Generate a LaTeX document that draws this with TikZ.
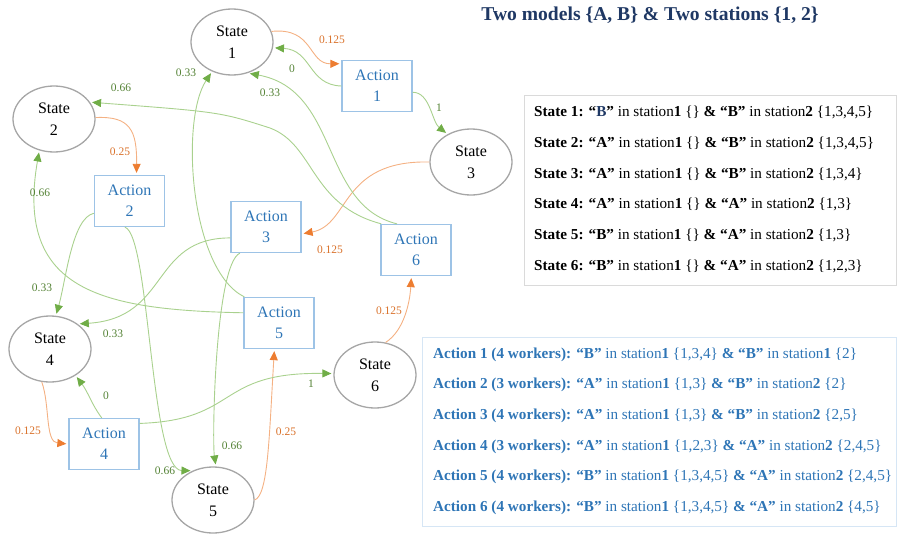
\documentclass[tikz,border=0pt]{standalone}
\usepackage{fontspec}
\setmainfont{Liberation Serif}
\usetikzlibrary{shapes.geometric,arrows.meta}

\definecolor{stgray}{HTML}{A6A6A6}
\definecolor{actblue}{HTML}{2E75B6}
\definecolor{actframe}{HTML}{9DC3E6}
\definecolor{grline}{HTML}{A9D18E}
\definecolor{grtip}{HTML}{70AD47}
\definecolor{grtext}{HTML}{548235}
\definecolor{orline}{HTML}{F4B183}
\definecolor{ortip}{HTML}{ED7D31}
\definecolor{ortext}{HTML}{D9712A}
\definecolor{navy}{HTML}{1F3864}
\definecolor{stframe}{HTML}{DADADA}
\definecolor{acframe}{HTML}{D6E6F5}

\tikzset{
  state/.style={ellipse,draw=stgray,line width=1.3pt,minimum width=82pt,
    minimum height=66pt,inner sep=0pt,align=center,font=\fontsize{16}{22}\selectfont},
  action/.style={rectangle,draw=actframe,line width=1.3pt,minimum width=70pt,
    minimum height=51pt,inner sep=0pt,align=center,text=actblue,
    font=\fontsize{16}{21}\selectfont},
  goact/.style={draw=orline,line width=0.9pt,shorten >=2pt,
    -{Triangle[length=9pt,width=8pt,color=ortip]}},
  gostate/.style={draw=grline,line width=0.9pt,shorten >=2pt,
    -{Triangle[length=9pt,width=8pt,color=grtip]}},
  orlab/.style={text=ortext,font=\fontsize{11.5}{12}\selectfont},
  grlab/.style={text=grtext,font=\fontsize{11.5}{12}\selectfont}
}

\begin{document}
\begin{tikzpicture}[x=1pt,y=-1pt]
\useasboundingbox (0,0) rectangle (897,538);

% states
\node[state] (s1) at (232,42) {State\\1};
\node[state] (s2) at (54,119) {State\\2};
\node[state] (s3) at (471,162) {State\\3};
\node[state] (s4) at (50,349) {State\\4};
\node[state] (s5) at (213,500) {State\\5};
\node[state] (s6) at (375,375) {State\\6};

% actions
\node[action] (a1) at (377,86) {Action\\1};
\node[action] (a2) at (129.5,201) {Action\\2};
\node[action] (a3) at (266,227) {Action\\3};
\node[action] (a4) at (104,444) {Action\\4};
\node[action] (a5) at (279,323) {Action\\5};
\node[action] (a6) at (416,250) {Action\\6};

% state -> action
\draw[goact] (s1.15) .. controls (314,27) and (308,64) .. (a1.148);
\draw[goact] (s2.2) .. controls (130,116) and (137,130) .. (a2.75);
\draw[goact] (s3.180) .. controls (340,160) and (350,225) .. (a3.-11);
\draw[goact] (s4.-104) .. controls (50,405) and (45,442) .. (a4.180);
\draw[goact] (s5.0) .. controls (268,495) and (269,440) .. (a5.-100);
\draw[goact] (s6.72) .. controls (405,330) and (410,300) .. (a6.-100);

% action -> state
\draw[gostate] (a1.180) .. controls (308,85) and (312,50) .. (s1.-8);
\draw[gostate] (a1.-10) .. controls (430,92) and (432,122) .. (s3.130);
\draw[gostate] (a2.-161) .. controls (72,218) and (66,280) .. (s4.80);
\draw[gostate] (a2.-100) .. controls (150,235) and (150,470) .. (s5.125);
\draw[gostate] (a3.-163) .. controls (150,238) and (170,318) .. (s4.42);
\draw[gostate] (a3.-135) .. controls (215,265) and (212,440) .. (s5.85);
\draw[gostate] (a4.95) .. controls (92,405) and (88,392) .. (s4.-46);
\draw[gostate] (a4.30) .. controls (240,420) and (215,372) .. (s6.178);
\draw[gostate] (a5.143) .. controls (190,270) and (180,120) .. (s1.-124);
\draw[gostate] (a5.164) .. controls (100,310) and (15,290) .. (s2.-115);
\draw[gostate] (a6.126) .. controls (320,205) and (340,90) .. (s1.-63);
\draw[gostate] (a6.143) .. controls (310,205) and (315,145) .. (270,128)
  .. controls (220,112) .. (s2.25);

% probabilities
\node[orlab] (p11) at (332,40) {0.125};
\node[orlab] (p22) at (120,152) {0.25};
\node[orlab] (p33) at (330,250) {0.125};
\node[orlab] (p44) at (28,431) {0.125};
\node[orlab] (p55) at (286,432) {0.25};
\node[orlab] (p66) at (389,311) {0.125};
\node[grlab] (q11) at (292,69) {0};
\node[grlab] (q13) at (439,108) {1};
\node[grlab] (q24) at (42,288) {0.33};
\node[grlab] (q25) at (165,471) {0.66};
\node[grlab] (q34) at (113,334) {0.33};
\node[grlab] (q35) at (232,446) {0.66};
\node[grlab] (q44) at (106,396) {0};
\node[grlab] (q46) at (311,384) {1};
\node[grlab] (q51) at (186,73) {0.33};
\node[grlab] (q52) at (40,193) {0.66};
\node[grlab] (q61) at (270,93) {0.33};
\node[grlab] (q62) at (121,88) {0.66};

% title and legend
\node[text=navy,font=\fontsize{19.6}{22}\selectfont\bfseries] (title) at (650,15)
  {Two models \{A, B\} \& Two stations \{1, 2\}};

\draw[stframe,line width=0.8pt] (524,95) rectangle (896,285);
\node[anchor=north west,align=left,inner sep=0pt,font=\fontsize{15.2}{30.7}\selectfont]
  (statelist) at (534,106) {%
  \textbf{State 1:} \textbf{“\textcolor{navy}{B}”} in station\textbf{1} \{\} \textbf{\&} \textbf{“B”} in station\textbf{2} \{1,3,4,5\}\\
  \textbf{State 2:} \textbf{“A”} in station\textbf{1} \{\} \textbf{\&} \textbf{“B”} in station\textbf{2} \{1,3,4,5\}\\
  \textbf{State 3:} \textbf{“A”} in station\textbf{1} \{\} \textbf{\&} \textbf{“B”} in station\textbf{2} \{1,3,4\}\\
  \textbf{State 4:} \textbf{“A”} in station\textbf{1} \{\} \textbf{\&} \textbf{“A”} in station\textbf{2} \{1,3\}\\
  \textbf{State 5:} \textbf{“B”} in station\textbf{1} \{\} \textbf{\&} \textbf{“A”} in station\textbf{2} \{1,3\}\\
  \textbf{State 6:} \textbf{“B”} in station\textbf{1} \{\} \textbf{\&} \textbf{“A”} in station\textbf{2} \{1,2,3\}};

\draw[acframe,line width=0.8pt] (422,337) rectangle (896,526);
\node[anchor=north west,align=left,inner sep=0pt,text=actblue,font=\fontsize{15.2}{30.6}\selectfont]
  (actionlist) at (433,347.5) {%
  \textbf{Action 1 (4 workers):} \textbf{“B”} in station\textbf{1} \{1,3,4\} \textbf{\& “B”} in station\textbf{1} \{2\}\\
  \textbf{Action 2 (3 workers):} \textbf{“A”} in station\textbf{1} \{1,3\} \textbf{\& “B”} in station\textbf{2} \{2\}\\
  \textbf{Action 3 (4 workers):} \textbf{“A”} in station\textbf{1} \{1,3\} \textbf{\& “B”} in station\textbf{2} \{2,5\}\\
  \textbf{Action 4 (3 workers):} \textbf{“A”} in station\textbf{1} \{1,2,3\} \textbf{\& “A”} in station\textbf{2} \{2,4,5\}\\
  \textbf{Action 5 (4 workers):} \textbf{“B”} in station\textbf{1} \{1,3,4,5\} \textbf{\& “A”} in station\textbf{2} \{2,4,5\}\\
  \textbf{Action 6 (4 workers):} \textbf{“B”} in station\textbf{1} \{1,3,4,5\} \textbf{\& “A”} in station\textbf{2} \{4,5\}};
\end{tikzpicture}
\end{document}
